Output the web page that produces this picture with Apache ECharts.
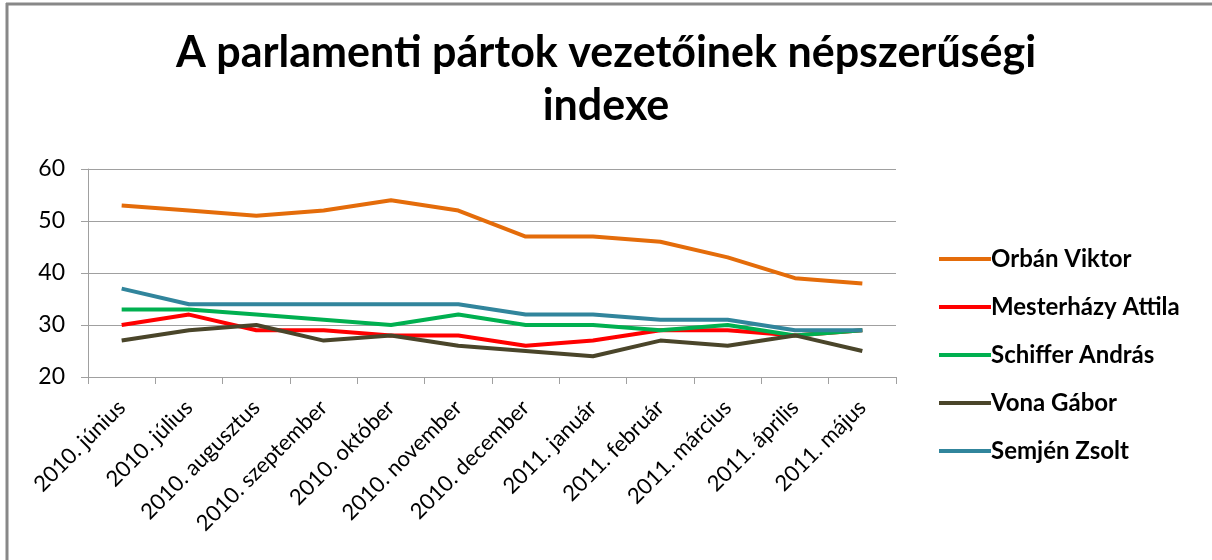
<!DOCTYPE html>
<html>
<head>
<meta charset="utf-8">
<script src="https://cdn.jsdelivr.net/npm/echarts@6/dist/echarts.min.js"></script>
<style>
  html, body { margin: 0; padding: 0; background: #fff; }
  #main { width: 1212px; height: 560px; }
</style>
</head>
<body>
<div id="main"></div>
<script>
var months = ['2010. június', '2010. július', '2010. augusztus', '2010. szeptember',
    '2010. október', '2010. november', '2010. december', '2011. január',
    '2011. február', '2011. március', '2011. április', '2011. május'];

var orban = [53, 52, 51, 52, 54, 52, 47, 47, 46, 43, 39, 38];
var mesterhazy = [30, 32, 29, 29, 28, 28, 26, 27, 29, 29, 28, 29];
var schiffer = [33, 33, 32, 31, 30, 32, 30, 30, 29, 30, 28, 29];
var vona = [27, 29, 30, 27, 28, 26, 25, 24, 27, 26, 28, 25];
var semjen = [37, 34, 34, 34, 34, 34, 32, 32, 31, 31, 29, 29];

var names = ['Orbán Viktor', 'Mesterházy Attila', 'Schiffer András', 'Vona Gábor', 'Semjén Zsolt'];
var colors = ['#E46C0A', '#FF0000', '#00B050', '#4A452A', '#31859C'];
var values = [orban, mesterhazy, schiffer, vona, semjen];

var myChart = echarts.init(document.getElementById('main'));

// one line series per leader
var series = [];
for (let i = 0; i < names.length; i++) {
    series.push({
        name: names[i],
        type: 'line',
        data: values[i],
        symbol: 'none',
        color: colors[i],
        lineStyle: { width: 4, color: colors[i] }
    });
}

var font = 'Lato, "Open Sans", sans-serif';

option = {
    backgroundColor: '#fff',
    animation: false,
    title: {
        text: 'A parlamenti pártok vezetőinek népszerűségi\nindexe',
        left: 'center',
        top: 22,
        textStyle: {
            fontFamily: font,
            fontSize: 43,
            fontWeight: 'bold',
            color: '#000',
            lineHeight: 53
        }
    },
    legend: {
        orient: 'vertical',
        left: 934,
        top: 242,
        itemWidth: 52,
        itemHeight: 4,
        itemGap: 24,
        icon: 'rect',
        textStyle: {
            fontFamily: font,
            fontSize: 24,
            fontWeight: 'bold',
            color: '#000',
            lineHeight: 24,
            padding: [0, 0, 0, -5]
        },
        data: names
    },
    grid: {
        left: 88,
        right: 316,
        top: 169,
        bottom: 183
    },
    xAxis: {
        type: 'category',
        data: months,
        boundaryGap: true,
        axisLine: { lineStyle: { color: '#a0a0a0', width: 1 } },
        axisTick: { show: true, length: 7, lineStyle: { color: '#a0a0a0' } },
        axisLabel: {
            rotate: 45,
            interval: 0,
            margin: 27,
            fontFamily: font,
            fontSize: 22,
            color: '#000'
        },
        splitLine: { show: false }
    },
    yAxis: {
        type: 'value',
        min: 20,
        max: 60,
        interval: 10,
        axisLine: { show: true, lineStyle: { color: '#a0a0a0', width: 1 } },
        axisTick: { show: true, length: 7, lineStyle: { color: '#a0a0a0' } },
        axisLabel: {
            margin: 23,
            fontFamily: font,
            fontSize: 23,
            color: '#000'
        },
        splitLine: { show: true, lineStyle: { color: '#a0a0a0', width: 1 } }
    },
    graphic: [
        {
            type: 'line',
            shape: { x1: 6, y1: 4, x2: 1212, y2: 4 },
            style: { stroke: '#888', lineWidth: 3 }
        },
        {
            type: 'line',
            shape: { x1: 7, y1: 3, x2: 7, y2: 560 },
            style: { stroke: '#888', lineWidth: 3 }
        }
    ],
    series: series
};

myChart.setOption(option);
</script>
</body>
</html>
